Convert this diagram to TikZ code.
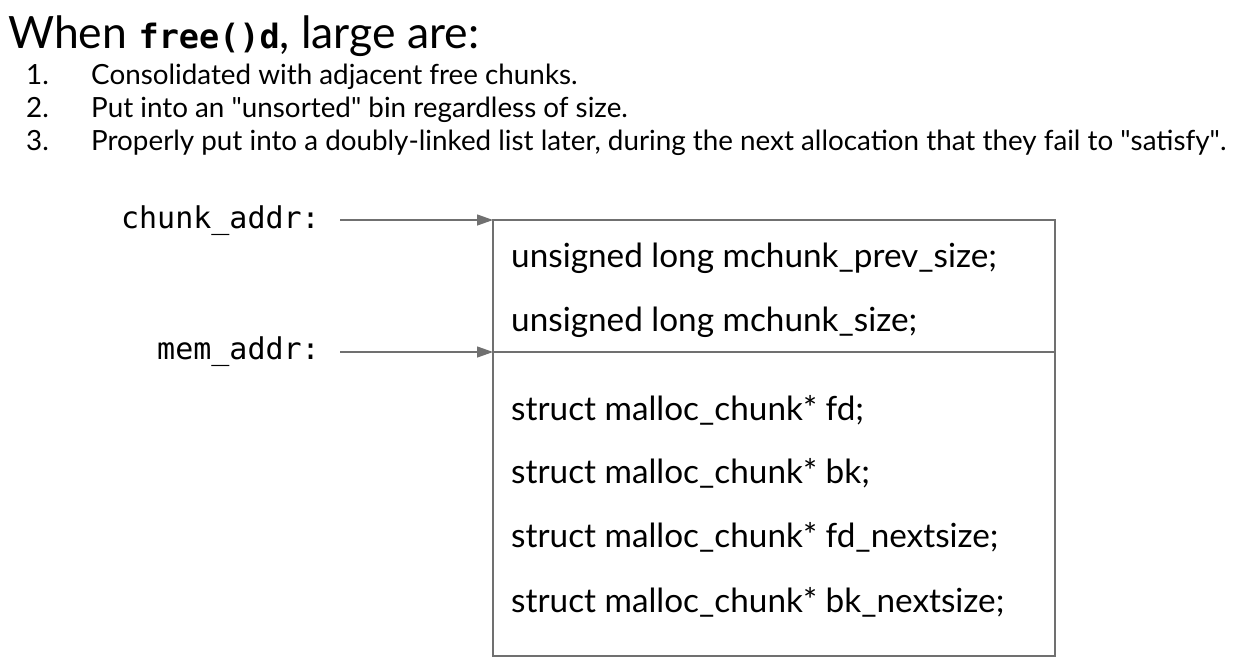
\documentclass[tikz,border=0pt]{standalone}
\usepackage{fontspec}
\setmainfont{Lato}
\setmonofont{DejaVu Sans Mono}
\usetikzlibrary{arrows.meta}
\definecolor{linegray}{HTML}{707070}
\tikzset{
  txt/.style={anchor=base west, inner sep=0pt, text=black},
  boxtxt/.style={txt, font=\fontsize{33.3}{36}\selectfont},
  listtxt/.style={txt, font=\fontsize{27.8}{30}\selectfont},
  lbl/.style={anchor=base east, inner sep=0pt, font=\ttfamily\fontsize{30}{32}\selectfont},
  ptr/.style={draw=linegray, line width=1.3pt, -{Triangle[length=16pt,width=11pt]}},
}
\begin{document}
\begin{tikzpicture}[x=1pt,y=-1pt]
\useasboundingbox (0,0) rectangle (1246,662);
\node[txt, font=\fontsize{44.5}{48}\selectfont] (title) at (8,48) {When {\ttfamily\fontsize{33.5}{36}\selectfont\bfseries free()d}, large are:};
\node[listtxt] (n1) at (26,84) {1.};
\node[listtxt] (n2) at (26,117) {2.};
\node[listtxt] (n3) at (26,150) {3.};
\node[listtxt] (l1) at (91,84) {Consolidated with adjacent free chunks.};
\node[listtxt] (l2) at (91,117) {Put into an \textquotedbl unsorted\textquotedbl{} bin regardless of size.};
\node[listtxt] (l3) at (91,150) {Properly put into a doubly-linked list later, during the next allocation that they fail to \textquotedbl satisfy\textquotedbl.};
% box
\draw[linegray, line width=1.3pt] (493,220) rectangle (1055,656);
\coordinate (boxtop) at (493,220);
\coordinate (boxmid) at (493,352);
\coordinate (midright) at (1055,352);
\draw[linegray, line width=1.3pt] (boxmid) -- (midright);
\node[boxtxt] (f1) at (511,267) {unsigned long mchunk\_prev\_size;};
\node[boxtxt] (f2) at (511,331) {unsigned long mchunk\_size;};
\node[boxtxt] (f3) at (511,420) {struct malloc\_chunk* fd;};
\node[boxtxt] (f4) at (511,483) {struct malloc\_chunk* bk;};
\node[boxtxt] (f5) at (511,547) {struct malloc\_chunk* fd\_nextsize;};
\node[boxtxt] (f6) at (511,612) {struct malloc\_chunk* bk\_nextsize;};
% labels
\node[lbl] (ca) at (320,228) {chunk\_addr:};
\node[lbl] (ma) at (320,359) {mem\_addr:};
\coordinate (castart) at (340,220);
\coordinate (mastart) at (340,352);
\draw[ptr] (castart) -- (boxtop);
\draw[ptr] (mastart) -- (boxmid);
\end{tikzpicture}
\end{document}
